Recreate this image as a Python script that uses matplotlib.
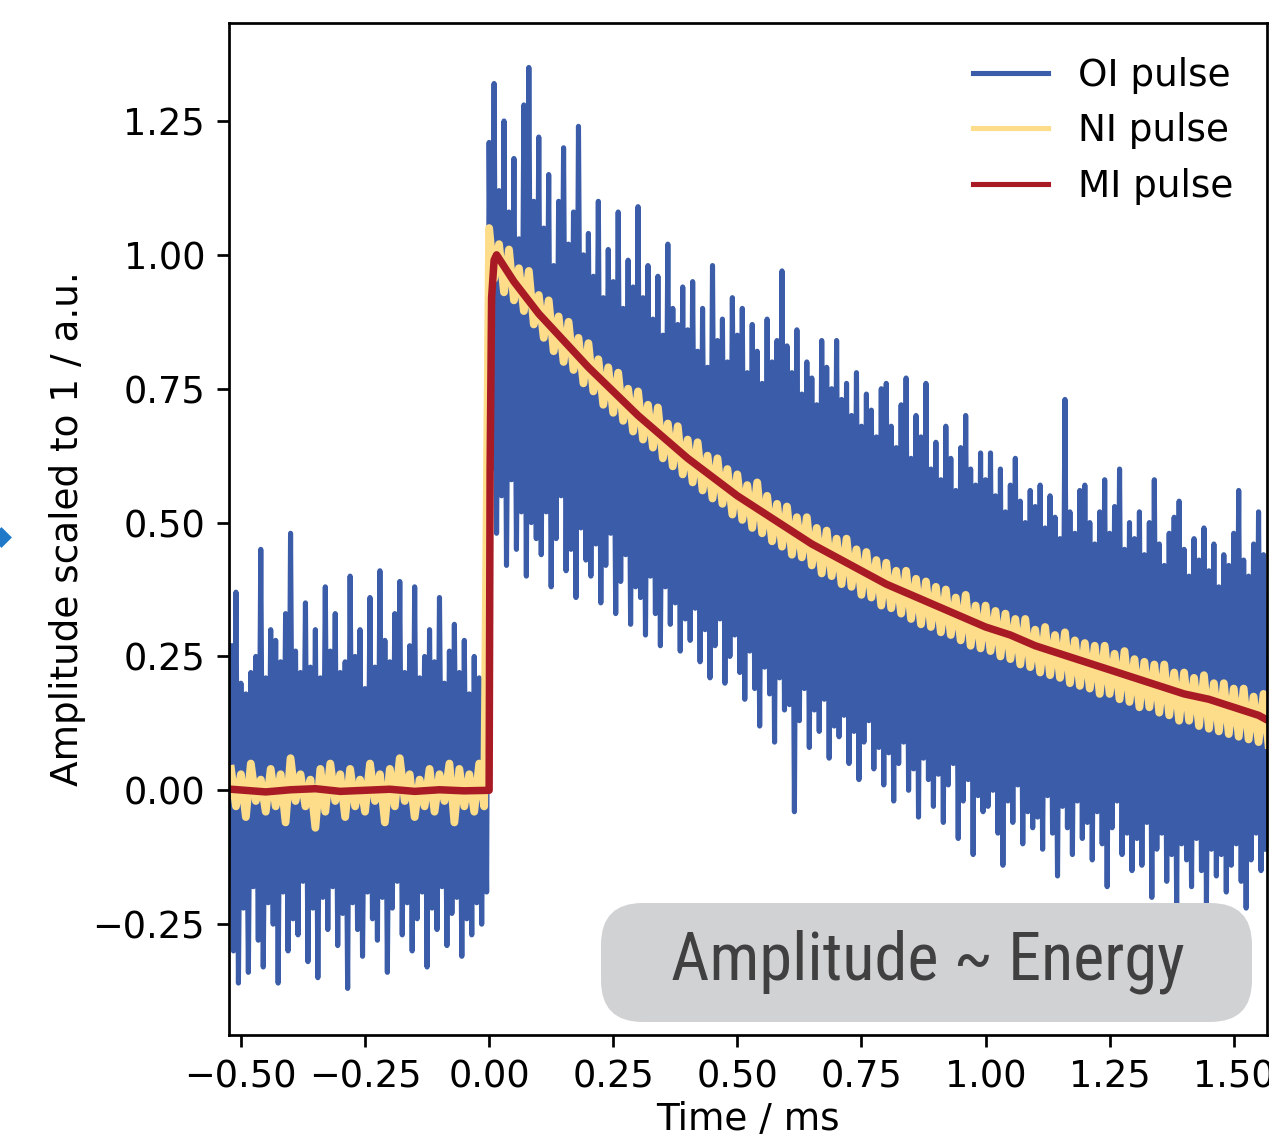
import numpy as np
import matplotlib
matplotlib.use("Agg")
import matplotlib.pyplot as plt
from matplotlib.patches import FancyBboxPatch
from matplotlib.lines import Line2D
from matplotlib import font_manager

# --- data (amplitudes in hundredths where ints) ---
# OI pulse: sampled every 0.01 ms, upper spike at t, lower spike at t + 0.005
oi_t0 = -0.52
oi_hi = [27, 37, 20, 18, 22, 25, 45, 21, 30, 28, 24, 33, 48, 26, 22, 35, 23, 30, 21, 38,
         26, 33, 22, 24, 40, 25, 30, 19, 36, 23, 41, 28, 24, 33, 39, 22, 27, 38, 21, 25,
         30, 24, 36, 20, 26, 31, 22, 28, 18, 25, 21, 19,
         121, 132, 112, 125, 108, 118, 103, 128, 135, 110,
         122, 105, 115, 98, 110, 120, 102, 108, 124, 100,
         104, 96, 110, 92, 101, 95, 108, 90, 99, 94,
         109, 92, 98, 88, 96, 85, 102, 90, 87, 94,
         86, 95, 82, 90, 79, 98, 84, 88, 80, 92,
         85, 90, 78, 87, 82, 76, 88, 80, 84, 97,
         83, 78, 86, 74, 80, 77, 72, 84, 79, 75,
         84, 73, 76, 70, 78, 68, 74, 71, 66, 75,
         76, 68, 64, 72, 77, 62, 70, 66, 76, 60,
         65, 58, 68, 62, 56, 64, 70, 60, 57, 63,
         58, 63, 55, 60, 52, 57, 62, 54, 50, 56,
         53, 57, 49, 55, 51, 47, 73, 52, 48, 56,
         57, 50, 46, 52, 58, 48, 53, 60, 45, 50,
         47, 52, 44, 50, 58, 46, 42, 48, 51, 54,
         45, 40, 47, 43, 49, 41, 46, 38, 44, 42,
         48, 56, 43, 40, 46, 52, 44]
oi_lo = [-30, -36, -22, -34, -18, -28, -33, -21, -25, -36, -19, -30, -24, -27, -17, -32, -22, -35, -20, -26,
         -18, -29, -23, -37, -21, -26, -31, -19, -24, -28, -20, -34, -22, -17, -27, -21, -30, -24, -19, -33,
         -22, -26, -18, -29, -23, -20, -31, -24, -27, -21, -25, -19,
         60, 48, 55, 42, 58, 45, 52, 40, 50, 47,
         44, 52, 38, 47, 55, 41, 45, 36, 49, 43,
         40, 46, 35, 42, 48, 33, 39, 44, 31, 38,
         36, 29, 40, 33, 27, 38, 31, 35, 26, 32,
         28, 34, 24, 30, 21, 27, 32, 20, 25, 29,
         22, 17, 26, 19, 12, 23, 18, 9, 21, 15,
         16, -4, 13, 19, 8, 15, 11, 17, 6, 12,
         10, 14, 5, 11, 2, 9, 13, 4, 8, 1,
         7, -2, 5, 9, 0, 4, -5, 6, 2, -3,
         3, -6, 1, 5, -9, -2, 2, -12, -1, -4,
         -3, 0, -8, -14, -2, -6, 1, -10, -4, -7,
         -5, -11, -1, -8, -16, -3, -7, -12, -2, -9,
         -6, -13, -4, -10, -18, -7, -2, -12, -8, -15,
         -9, -14, -6, -20, -11, -8, -17, -12, -22, -10,
         -13, -18, -9, -15, -21, -11, -16, -12, -19, -14,
         -10, -17, -22, -13, -8, -15, -11]

# NI pulse: sampled every 0.02 ms, upper at t, lower at t + 0.01
ni_pre_hi = [4, 3, 5, 2, 4, 3, 6, 3, 2, 4, 5, 3, 4, 2, 5, 3, 4, 6, 3, 2, 4, 3, 5, 4, 3, 5]
ni_pre_lo = [-3, -5, -2, -4, -3, -6, -2, -3, -7, -4, -2, -5, -3, -4, -2, -6, -3, -2, -5, -3,
             -4, -2, -6, -3, -4, -3]
ni_post_hi = [1.05, 1.02, 1.01, 0.975, 0.97, 0.925, 0.915, 0.885, 0.875, 0.845,
              0.835, 0.805, 0.79, 0.78, 0.75, 0.745, 0.72, 0.715, 0.685, 0.68,
              0.655, 0.65, 0.625, 0.62, 0.60, 0.59, 0.57, 0.575, 0.55, 0.535,
              0.53, 0.51, 0.51, 0.49, 0.485, 0.47, 0.47, 0.45, 0.445, 0.43,
              0.425, 0.41, 0.41, 0.395, 0.39, 0.38, 0.375, 0.36, 0.365, 0.345,
              0.345, 0.335, 0.33, 0.32, 0.32, 0.30, 0.305, 0.29, 0.295, 0.28,
              0.275, 0.27, 0.27, 0.255, 0.26, 0.245, 0.24, 0.235, 0.235, 0.22,
              0.22, 0.21, 0.215, 0.20, 0.20, 0.19, 0.19, 0.175, 0.18]
ni_post_lo = [0.955, 0.93, 0.915, 0.895, 0.87, 0.845, 0.82, 0.80, 0.785, 0.76,
              0.745, 0.72, 0.705, 0.69, 0.67, 0.655, 0.64, 0.62, 0.605, 0.59,
              0.575, 0.56, 0.545, 0.535, 0.515, 0.505, 0.49, 0.48, 0.465, 0.455,
              0.44, 0.435, 0.42, 0.405, 0.40, 0.385, 0.38, 0.365, 0.36, 0.345,
              0.34, 0.33, 0.32, 0.31, 0.305, 0.295, 0.29, 0.28, 0.27, 0.265,
              0.26, 0.25, 0.245, 0.235, 0.23, 0.22, 0.215, 0.21, 0.20, 0.195,
              0.19, 0.18, 0.18, 0.17, 0.165, 0.155, 0.155, 0.145, 0.14, 0.13,
              0.13, 0.12, 0.115, 0.11, 0.105, 0.10, 0.095, 0.09, 0.085]

# MI pulse (smooth)
mi_t = [-0.52, -0.45, -0.40, -0.35, -0.30, -0.25, -0.20, -0.15, -0.10, -0.05, 0.0,
        0.002, 0.005, 0.01, 0.015, 0.05, 0.10, 0.15, 0.20, 0.25, 0.30, 0.35, 0.40, 0.45,
        0.50, 0.55, 0.60, 0.65, 0.70, 0.75, 0.80, 0.85, 0.90, 0.95, 1.00, 1.05, 1.10,
        1.15, 1.20, 1.25, 1.30, 1.35, 1.40, 1.45, 1.50, 1.55, 1.57]
mi_y = [0.002, -0.003, 0.001, 0.003, -0.002, 0.0, 0.002, -0.002, 0.001, -0.001, 0.0,
        0.60, 0.92, 0.99, 1.0, 0.95, 0.89, 0.84, 0.79, 0.745, 0.70, 0.66, 0.62, 0.585,
        0.55, 0.52, 0.49, 0.46, 0.435, 0.41, 0.385, 0.365, 0.345, 0.325, 0.305, 0.29, 0.27,
        0.255, 0.24, 0.225, 0.21, 0.195, 0.18, 0.17, 0.155, 0.14, 0.13]

# --- interleave upper/lower samples into one trace ---
oi_hi = np.array(oi_hi) / 100
oi_lo = np.array(oi_lo) / 100
n = len(oi_hi)
oi_ts = oi_t0 + 0.01 * np.arange(n)
oi_x = np.empty(2 * n); oi_y = np.empty(2 * n)
oi_x[0::2] = oi_ts; oi_x[1::2] = oi_ts + 0.005
oi_y[0::2] = oi_hi; oi_y[1::2] = oi_lo

ni_hi = np.concatenate([np.array(ni_pre_hi) / 100, ni_post_hi])
ni_lo = np.concatenate([np.array(ni_pre_lo) / 100, ni_post_lo])
m = len(ni_hi)
ni_ts = -0.52 + 0.02 * np.arange(m)
ni_x = np.empty(2 * m); ni_y = np.empty(2 * m)
ni_x[0::2] = ni_ts; ni_x[1::2] = ni_ts + 0.01
ni_y[0::2] = ni_hi; ni_y[1::2] = ni_lo

# --- figure ---
fig = plt.figure(figsize=(1269 / 245, 1140 / 245), dpi=245)
ax = fig.add_axes([229 / 1269, 1 - 1035 / 1140, (1267 - 229) / 1269, (1035 - 23) / 1140])

ax.plot(oi_x, oi_y, color="#3b5ca8", lw=1.5, label="OI pulse")
ax.plot(ni_x, ni_y, color="#fddc8a", lw=2.3, label="NI pulse")
ax.plot(mi_t, mi_y, color="#a81b25", lw=2.2, label="MI pulse")

ax.set_xlim(-0.524, 1.567)
ax.set_ylim(-0.457, 1.433)
ax.set_xticks([-0.5, -0.25, 0, 0.25, 0.5, 0.75, 1.0, 1.25, 1.5])
ax.set_yticks([-0.25, 0, 0.25, 0.5, 0.75, 1.0, 1.25])
ax.tick_params(labelsize=10.8)
ax.set_xlabel("Time / ms", fontsize=11, labelpad=1.5)
ax.set_ylabel("Amplitude scaled to 1 / a.u.", fontsize=11, labelpad=2)
leg = ax.legend(loc="upper right", frameon=False, fontsize=11)
for h in leg.get_lines():
    h.set_linewidth(1.5)

# annotation box
box = FancyBboxPatch((601 / 245, 118 / 245), 651 / 245, 119 / 245,
                     boxstyle="round,pad=0,rounding_size=0.17",
                     transform=fig.dpi_scale_trans, facecolor="#d1d2d4",
                     edgecolor="none", zorder=5)
fig.add_artist(box)
names = {f.name for f in font_manager.fontManager.ttflist}
cond = [f for f in ["Liberation Sans Narrow", "DejaVu Sans Condensed", "Roboto Condensed"] if f in names]
fig.text(927.5 / 1269, 160 / 1140, "Amplitude ~ Energy", fontsize=19.5,
         family=cond + ["DejaVu Sans"], color="#404040", ha="center", va="baseline",
         zorder=6)

# small blue arrow tip at the left edge
fig.add_artist(Line2D([1 / 1269], [1 - 537 / 1140], marker="D", ms=3.5,
                      color="#1f78c8", transform=fig.transFigure))

fig.savefig("out.png", dpi=245)
